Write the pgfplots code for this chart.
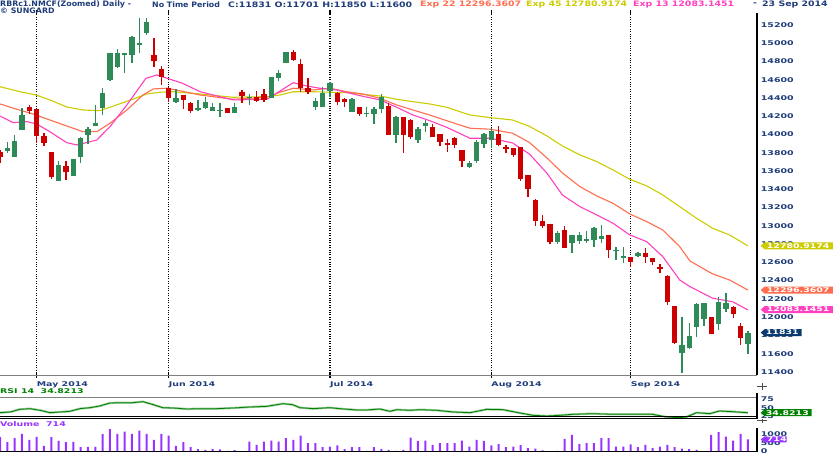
\documentclass[border=0pt]{standalone}
\usepackage{pgfplots}
\pgfplotsset{compat=1.18}
\usepackage{pgfplotstable}
\usepackage{fontspec}
\setmainfont{DejaVu Sans}
\newfontfamily\hf[FakeStretch=1.05]{DejaVu Sans}
\newfontfamily\hn[FakeStretch=1.25]{DejaVu Sans}
\newfontfamily\tf[FakeStretch=1.45]{DejaVu Sans}

\definecolor{navy}{HTML}{1F3D7A}
\definecolor{upc}{HTML}{2E8B57}
\definecolor{dnc}{HTML}{CC0000}
\definecolor{e45}{HTML}{CCCC00}
\definecolor{e22}{HTML}{FF6E50}
\definecolor{e13}{HTML}{FF40BF}
\definecolor{vol}{HTML}{9933FF}
\definecolor{rsi}{HTML}{008000}
\definecolor{boxnavy}{HTML}{0A3A6E}

% daily candles: index, open, high, low, close
\pgfplotstableread{
i o h l c
0 13813 13831 13685 13758
1 13824 13922 13795 13849
2 13751 13995 13751 13930
3 14050 14287 14050 14214
4 14298 14324 14225 14262
5 14277 14277 13904 13984
6 13984 14021 13875 13911
7 13806 13806 13510 13539
8 13495 13714 13495 13667
9 13660 13714 13503 13594
10 13546 13729 13546 13729
11 13751 13977 13692 13959
12 13995 14079 13897 14057
13 14094 14324 14094 14123
14 14287 14507 14214 14459
15 14598 14890 14590 14890
16 14737 14934 14726 14890
17 14883 14890 14678 14890
18 14872 15080 14788 15065
19 14990 15280 14890 15000
20 15116 15277 15091 15237
21 14872 15054 14744 14810
22 14715 14751 14543 14634
23 14507 14525 14360 14397
24 14360 14496 14350 14404
25 14434 14434 14277 14379
26 14350 14360 14233 14262
27 14269 14379 14262 14287
28 14287 14408 14277 14360
29 14262 14350 14262 14298
30 14262 14350 14196 14269
31 14287 14287 14233 14240
32 14240 14342 14240 14298
33 14470 14488 14350 14423
34 14397 14444 14324 14415
35 14408 14477 14360 14371
36 14444 14496 14360 14379
37 14397 14634 14397 14627
38 14616 14707 14590 14671
39 14788 14908 14780 14908
40 14908 14926 14810 14817
41 14769 14824 14470 14507
42 14507 14616 14444 14470
43 14298 14397 14269 14371
44 14298 14525 14298 14459
45 14481 14580 14408 14561
46 14452 14470 14324 14360
47 14386 14397 14298 14360
48 14251 14397 14251 14386
49 14298 14298 14203 14225
50 14225 14298 14196 14240
51 14225 14298 14116 14277
52 14277 14444 14240 14408
53 14313 14350 13995 13995
54 13995 14203 13911 14196
55 14196 14196 13795 13995
56 14160 14167 13948 13977
57 13941 14087 13904 14057
58 14094 14160 14032 14130
59 14079 14116 13977 13977
60 14006 14006 13875 13922
61 13904 13948 13813 13897
62 13959 13977 13849 13886
63 13831 13831 13649 13714
64 13649 13714 13630 13692
65 13714 13941 13692 13922
66 13897 14021 13849 14003
67 13941 14068 13849 14043
68 14003 14094 13875 13886
69 13860 13886 13802 13838
70 13849 13849 13751 13776
71 13860 13867 13495 13510
72 13557 13557 13320 13400
73 13283 13291 12998 13057
74 13057 13119 12973 12998
75 13017 13017 12798 12827
76 12827 12947 12801 12918
77 12955 12998 12754 12761
78 12809 12900 12699 12900
79 12838 12936 12801 12900
80 12838 12947 12809 12852
81 12845 12984 12772 12973
82 12852 13009 12809 12889
83 12900 12900 12644 12736
84 12728 12765 12626 12736
85 12655 12765 12597 12663
86 12655 12655 12553 12608
87 12670 12717 12655 12706
88 12706 12754 12589 12663
89 12644 12644 12571 12608
90 12553 12582 12487 12524
91 12454 12462 12133 12170
92 12122 12122 11706 11721
93 11604 11998 11392 11695
94 11659 11940 11648 11794
95 11896 12151 11786 12144
96 11976 12159 11903 12159
97 12005 12005 11816 11816
98 11925 12224 11859 12170
99 12086 12268 12060 12159
100 12108 12122 11987 12035
101 11903 11940 11695 11768
102 11701 11850 11600 11831
}\candles

\pgfplotstableread{
i v
0 843
1 549
2 784
3 1039
4 686
5 862
6 333
7 843
8 627
9 549
10 568
11 255
12 274
13 274
14 1019
15 1313
16 1039
17 1176
18 1039
19 1235
20 1039
21 686
22 1039
23 941
24 333
25 549
26 255
27 137
28 98
29 157
30 118
31 39
32 78
33 20
34 588
35 392
36 588
37 647
38 588
39 784
40 686
41 941
42 490
43 490
44 255
45 294
46 353
47 137
48 255
49 255
50 39
51 255
52 137
53 98
54 39
55 98
56 823
57 627
58 647
59 392
60 490
61 490
62 490
63 647
64 294
65 686
66 627
67 353
68 431
69 255
70 294
71 372
72 196
73 176
74 59
75 20
76 39
77 745
78 980
79 451
80 490
81 490
82 784
83 784
84 294
85 294
86 412
87 255
88 392
89 196
90 294
91 392
92 255
93 176
94 137
95 98
96 20
97 980
98 1137
99 882
100 647
101 1039
102 714
}\volumes

\pgfplotsset{
  panel/.style={scale only axis, width=756.7pt, xmin=0, xmax=103.2,
    axis line style={draw=none}, ytick style={draw=none},
    yticklabel pos=right, scaled y ticks=false,
    yticklabel style={anchor=west, inner sep=0pt, xshift=4pt, text=navy,
      font=\tf\bfseries\fontsize{6.5}{7}\selectfont},
    /pgf/number format/1000 sep={}, /pgf/number format/assume math mode=true},
  candle/.style n args={2}{draw=none, no markers, forget plot,
    restrict expr to domain={\thisrow{c}-\thisrow{o}}{#1},
    error bars/.cd, y dir=both, y explicit, error mark=none,
    error bar style={#2}},
}

\begin{document}
\begin{tikzpicture}[x=1pt,y=1pt]
\fill[white] (0pt,0pt) rectangle (833pt,-454pt);
\useasboundingbox (0pt,0pt) rectangle (833pt,-454pt);

% ---- price panel
\begin{axis}[panel, name=main, at={(0pt,-375.5pt)}, anchor=south west,
  height=362.5pt, ymin=11361, ymax=15331,
  ytick={11400,11600,...,15200},
  xtick={5,23,45,67,86},
  xticklabels={May 2014,Jun 2014,Jul 2014,Aug 2014,Sep 2014},
  xticklabel style={anchor=north west, inner sep=0pt, yshift=-3.5pt, text=navy,
    font=\tf\bfseries\fontsize{6.5}{7}\selectfont},
  xtick style={black, line width=1.2pt}, major tick length=5pt, xtick align=center,
  xmajorgrids, grid style={black, line width=1.1pt, dash pattern=on 1.1pt off 1.3pt}]

\addplot[e45, line width=1.1pt] coordinates {
(0,14524) (2.7,14469) (4.9,14433) (6.8,14379) (9.1,14302) (11.3,14269) (13.6,14261)
(15.9,14324) (18.1,14386) (20,14444) (21.8,14463) (23.6,14469) (27.3,14444) (31.8,14408)
(36.4,14415) (38.2,14433) (40,14469) (42.7,14469) (47.3,14458) (51.8,14422) (54.1,14386)
(56.3,14360) (58.6,14335) (60.9,14299) (64.1,14214) (66.9,14185) (69.9,14159) (72.2,14090)
(74.6,13984) (76.7,13875) (79.1,13776) (81.4,13703) (83.6,13612) (85.9,13510) (88.2,13437)
(90.4,13338) (92.7,13210) (95,13083) (97.2,12973) (99.5,12900) (102,12781)};

\addplot[e22, line width=1.1pt] coordinates {
(0,14335) (2.3,14277) (4.5,14225) (6.8,14159) (9.1,14094) (11.3,14031) (13.2,14031)
(15,14123) (17.3,14269) (19.5,14433) (20.9,14499) (22.8,14507) (24.5,14480) (27.3,14433)
(31.8,14386) (36.4,14408) (38.2,14464) (40,14507) (42.7,14488) (45,14507) (47.3,14469)
(49.5,14444) (51.8,14397) (54.1,14324) (56.3,14269) (58.6,14214) (60.9,14152) (64.1,14069)
(66.9,14058) (69.9,14014) (72.2,13913) (74.6,13743) (76.7,13579) (79.1,13429) (81.4,13327)
(83.6,13247) (85.9,13130) (88.2,13046) (90.4,12955) (92.7,12772) (94.1,12615) (97.2,12473)
(99.5,12407) (102,12297)};

\addplot[e13, line width=1.1pt] coordinates {
(0,14203) (1.8,14130) (3.7,14141) (5,14116) (6.8,14031) (9.1,13911) (10.5,13886)
(13.2,13940) (15,14086) (17.3,14324) (19.9,14616) (21.4,14652) (22.8,14616) (24.9,14561)
(27.3,14469) (29.6,14422) (31.8,14379) (36.4,14386) (38.2,14477) (40,14568) (41.8,14532)
(43.6,14507) (45.9,14488) (48.7,14433) (51.8,14379) (54.1,14299) (56.3,14214) (58.6,14152)
(60.9,14080) (64.1,13959) (66.9,13959) (69.9,13908) (72.2,13787) (74.6,13576) (76.7,13338)
(79.1,13210) (81.4,13119) (83.6,13028) (85.9,12900) (88.2,12827) (90.4,12662) (92.7,12407)
(94.1,12334) (97.2,12207) (99.9,12169) (102,12079)};

% wicks and bodies
\addplot[candle={0:100000}{draw=upc, line width=1.3pt}]
  table[x=i, y expr={(\thisrow{h}+\thisrow{l})/2},
        y error expr={(\thisrow{h}-\thisrow{l})/2}] {\candles};
\addplot[candle={0:100000}{draw=upc, line width=5.2pt}]
  table[x=i, y expr={(\thisrow{o}+\thisrow{c})/2},
        y error expr={max(abs(\thisrow{c}-\thisrow{o})/2,6)}] {\candles};
\addplot[candle={-100000:-0.5}{draw=dnc, line width=1.3pt}]
  table[x=i, y expr={(\thisrow{h}+\thisrow{l})/2},
        y error expr={(\thisrow{h}-\thisrow{l})/2}] {\candles};
\addplot[candle={-100000:-0.5}{draw=dnc, line width=5.2pt}]
  table[x=i, y expr={(\thisrow{o}+\thisrow{c})/2},
        y error expr={max(abs(\thisrow{c}-\thisrow{o})/2,6)}] {\candles};

\coordinate (l45) at (axis cs:103.2,12780.9174);
\coordinate (l22) at (axis cs:103.2,12296.3607);
\coordinate (l13) at (axis cs:103.2,12083.1451);
\coordinate (lc) at (axis cs:103.2,11831);
\end{axis}
\draw[gray, line width=1pt] (main.south west) -- (main.south east);
\draw[black, line width=1.7pt] (main.south east) -- (main.north east);

% ---- RSI panel
\begin{axis}[panel, name=rsiax, at={(0pt,-417pt)}, anchor=south west,
  height=19pt, ymin=22, ymax=79, xtick=\empty, ytick={25,50,75}]
\addplot[rsi!40, line width=2.2pt] coordinates {
(0,35) (1.4,37) (2.7,45) (4.1,47) (5.5,42) (6.8,35) (8.2,37) (9.5,39) (10.9,47) (12.3,50)
(13.6,55) (15,64) (16.4,65) (18.1,65) (19.5,68) (20.9,59) (22.2,50) (23.6,49) (25.5,46)
(27.3,47) (29.6,47) (31.8,49) (34.1,52) (36.4,54) (38.6,62) (39.9,59) (40.9,50) (42.7,47)
(45,50) (46.3,47) (48.7,43) (50,43) (51.8,46) (53.2,39) (54.1,44) (55.9,42) (57.3,44)
(59.6,42) (61.8,37) (64.1,35) (66.4,45) (68.6,44) (70.9,34) (72.7,27) (74.6,25) (76.3,27)
(78.1,30) (80.8,32) (83.6,30) (86.3,30) (89,30) (90.9,22) (92.7,20) (93.6,22) (95,35)
(96.8,32) (98.1,40) (99.9,38) (102,34.8)};
\addplot[rsi, line width=0.8pt] coordinates {
(0,35) (1.4,37) (2.7,45) (4.1,47) (5.5,42) (6.8,35) (8.2,37) (9.5,39) (10.9,47) (12.3,50)
(13.6,55) (15,64) (16.4,65) (18.1,65) (19.5,68) (20.9,59) (22.2,50) (23.6,49) (25.5,46)
(27.3,47) (29.6,47) (31.8,49) (34.1,52) (36.4,54) (38.6,62) (39.9,59) (40.9,50) (42.7,47)
(45,50) (46.3,47) (48.7,43) (50,43) (51.8,46) (53.2,39) (54.1,44) (55.9,42) (57.3,44)
(59.6,42) (61.8,37) (64.1,35) (66.4,45) (68.6,44) (70.9,34) (72.7,27) (74.6,25) (76.3,27)
(78.1,30) (80.8,32) (83.6,30) (86.3,30) (89,30) (90.9,22) (92.7,20) (93.6,22) (95,35)
(96.8,32) (98.1,40) (99.9,38) (102,34.8)};
\coordinate (lr) at (axis cs:103.2,34.8213);
\end{axis}
\draw[gray, line width=1pt] (rsiax.north west) -- (rsiax.north east);
\draw[black, line width=0.9pt] (0pt,-416pt) -- (757pt,-416pt);
\draw[black, line width=0.9pt] (0pt,-418.5pt) -- (757pt,-418.5pt);
\draw[black, line width=1.7pt] (756.7pt,-393pt) -- (756.7pt,-418.5pt);

% ---- volume panel
\begin{axis}[panel, name=volax, at={(0pt,-451.5pt)}, anchor=south west,
  height=31.5pt, ymin=0, ymax=1853, xtick=\empty, ytick={0,500,1000}]
\addplot[ybar, bar width=2pt, fill=vol, draw=none] table[x=i, y=v] {\volumes};
\coordinate (lv) at (axis cs:103.2,714);
\end{axis}
\draw[black, line width=1pt] (0pt,-451.8pt) -- (757pt,-451.8pt);
\draw[black, line width=1.7pt] (756.7pt,-428pt) -- (756.7pt,-452.3pt);

% ---- value tags on the right
\fill[e45] ([xshift=4pt]l45) -- ++(4pt,3.5pt) -- ++(80pt,0pt) -- ++(0pt,-7pt) -- ++(-80pt,0pt) -- cycle;
\node[anchor=west, inner sep=0pt, text=white, font=\tf\bfseries\fontsize{6.5}{7}\selectfont] at ([xshift=10pt]l45) {12780.9174};
\fill[e22] ([xshift=4pt]l22) -- ++(4pt,3.5pt) -- ++(80pt,0pt) -- ++(0pt,-7pt) -- ++(-80pt,0pt) -- cycle;
\node[anchor=west, inner sep=0pt, text=white, font=\tf\bfseries\fontsize{6.5}{7}\selectfont] at ([xshift=10pt]l22) {12296.3607};
\fill[e13] ([xshift=4pt]l13) -- ++(4pt,3.5pt) -- ++(80pt,0pt) -- ++(0pt,-7pt) -- ++(-80pt,0pt) -- cycle;
\node[anchor=west, inner sep=0pt, text=white, font=\tf\bfseries\fontsize{6.5}{7}\selectfont] at ([xshift=10pt]l13) {12083.1451};
\fill[boxnavy] ([xshift=4pt]lc) -- ++(4pt,3.5pt) -- ++(37pt,0pt) -- ++(0pt,-7pt) -- ++(-37pt,0pt) -- cycle;
\node[anchor=west, inner sep=0pt, text=white, font=\tf\bfseries\fontsize{6.5}{7}\selectfont] at ([xshift=9pt]lc) {11831};
\fill[rsi] ([xshift=4pt]lr) -- ++(4pt,3.5pt) -- ++(47pt,0pt) -- ++(0pt,-7pt) -- ++(-47pt,0pt) -- cycle;
\node[anchor=west, inner sep=0pt, text=white, font=\tf\bfseries\fontsize{6.5}{7}\selectfont] at ([xshift=9pt]lr) {34.8213};
\fill[vol] ([xshift=4pt]lv) -- ++(4pt,3pt) -- ++(22pt,0pt) -- ++(0pt,-6pt) -- ++(-22pt,0pt) -- cycle;
\node[anchor=west, inner sep=0pt, text=white, font=\tf\bfseries\fontsize{6.5}{7}\selectfont] at ([xshift=10pt]lv) {714};

% ---- header and panel titles
\begin{scope}[every node/.style={anchor=west, inner sep=0pt}]
\node[text=navy, font=\hf\bfseries\fontsize{7.5}{8}\selectfont] at (0pt,-4.5pt) {RBRc1.NMCF(Zoomed) Daily -};
\node[text=navy, font=\hf\bfseries\fontsize{7.5}{8}\selectfont] at (152pt,-4.5pt) {No Time Period};
\node[text=navy, font=\hn\bfseries\fontsize{7.5}{8}\selectfont] at (228pt,-4.5pt) {C:11831 O:11701 H:11850 L:11600};
\node[text=e22, font=\hn\bfseries\fontsize{7.5}{8}\selectfont] at (420pt,-4.5pt) {Exp 22 12296.3607};
\node[text=e45, font=\hn\bfseries\fontsize{7.5}{8}\selectfont] at (526pt,-4.5pt) {Exp 45 12780.9174};
\node[text=e13, font=\hn\bfseries\fontsize{7.5}{8}\selectfont] at (633pt,-4.5pt) {Exp 13 12083.1451};
\node[text=navy, font=\hn\bfseries\fontsize{7.5}{8}\selectfont] at (753pt,-4.5pt) {-};
\node[text=navy, font=\hn\bfseries\fontsize{7.5}{8}\selectfont] at (762pt,-4.5pt) {23 Sep 2014};
\node[text=navy, font=\hf\bfseries\fontsize{7.5}{8}\selectfont] at (0pt,-11pt) {\copyright{} SUNGARD};
\end{scope}
\node[anchor=west, inner sep=0pt, text=rsi, font=\tf\bfseries\fontsize{6.5}{7}\selectfont] at (0pt,-391.5pt) {RSI 14\ \ 34.8213};
\node[anchor=west, inner sep=0pt, text=vol, font=\tf\bfseries\fontsize{6.5}{7}\selectfont] at (0pt,-424pt) {Volume\ \ 714};

% splitter handles
\draw[black!70, line width=0.8pt] (757pt,-386.5pt) -- (767pt,-386.5pt) (762pt,-383.5pt) -- (762pt,-389.5pt);
\draw[black!70, line width=0.8pt] (757pt,-420.5pt) -- (767pt,-420.5pt) (762pt,-418.5pt) -- (762pt,-422.5pt);
\end{tikzpicture}
\end{document}
